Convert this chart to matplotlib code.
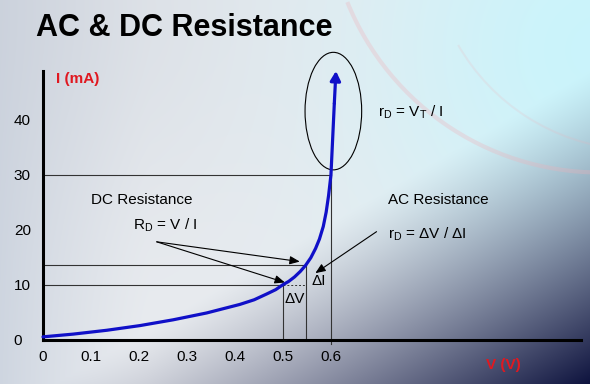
import numpy as np
import matplotlib
matplotlib.use('Agg')
import matplotlib.pyplot as plt
import matplotlib.patches as patches

plt.rcParams['font.family'] = ['Liberation Sans', 'DejaVu Sans']
plt.rcParams['mathtext.default'] = 'regular'

# diode curve (V in volts, I in mA)
volts = [0.0, 0.063, 0.133, 0.202, 0.271, 0.341, 0.41, 0.44, 0.466, 0.485,
         0.5, 0.512, 0.524, 0.536, 0.547, 0.558, 0.568, 0.576, 0.584, 0.59,
         0.595, 0.6, 0.6035, 0.607]
amps = [0.5, 1.0, 1.7, 2.55, 3.6, 4.85, 6.4, 7.25, 8.3, 9.1,
        10.0, 10.6, 11.4, 12.4, 13.5, 14.9, 16.6, 18.3, 20.6, 23.2,
        26.2, 30.0, 36.5, 43.0]
arrow_tip = (0.6104, 48.9)

x_ticks = [0, 0.1, 0.2, 0.3, 0.4, 0.5, 0.6]
x_labels = ['0', '0.1', '0.2', '0.3', '0.4', '0.5', '0.6']
y_ticks = [0, 10, 20, 30, 40]
y_labels = ['0', '10', '20', '30', '40']

# operating points (V, I) for the helper lines
q_dc = (0.5, 10.0)
q_ac = (0.547, 13.5)
q_top = (0.6, 30.0)

W, H = 590, 384
fig = plt.figure(figsize=(W / 100, H / 100), dpi=100)

# ---- slide background ----
bg = fig.add_axes([0, 0, 1, 1], zorder=-5)
bg.set_axis_off()
yy, xx = np.mgrid[0:H, 0:W]
u, v = xx / W, yy / H
base = np.array([0.915, 0.925, 0.94])
img = np.ones((H, W, 3)) * base
# grey-blue left edge
wl = np.clip(1 - xx / 150., 0, 1) ** 1.3 * 0.6
img = img * (1 - wl[..., None]) + np.array([0.74, 0.78, 0.84]) * wl[..., None]
# greyer top left
wt = np.exp(-((xx - 60) ** 2 + (yy - 10) ** 2) / (2 * 150. ** 2)) * 0.4
img = img * (1 - wt[..., None]) + np.array([0.78, 0.80, 0.84]) * wt[..., None]
# cyan glow top right
wc = np.exp(-((xx - 600) ** 2 + (yy - 50) ** 2) / (2 * 170. ** 2)) * 0.9
img = img * (1 - wc[..., None]) + np.array([0.78, 0.96, 0.99]) * wc[..., None]
# dark navy bottom right
d = np.clip((0.9 * u + 1.0 * v - 1.08) / 0.82, 0, 1) ** 1.2
img = img * (1 - d[..., None]) + np.array([0.05, 0.07, 0.24]) * d[..., None]
bg.imshow(img, extent=[0, W, H, 0], aspect='auto')
bg.set_xlim(0, W)
bg.set_ylim(H, 0)
# faint pink arcs
bg.add_patch(patches.Arc((600, -100), 545, 545, theta1=88, theta2=158,
                         color='#f0b0b8', lw=3, alpha=0.3))
bg.add_patch(patches.Arc((640, -60), 420, 420, theta1=95, theta2=150,
                         color='#f0b0b8', lw=1.5, alpha=0.18))

# ---- main chart ----
ax = fig.add_axes([43 / W, (H - 339.6) / H, 538 / W, 268.6 / H])
ax.set_facecolor('none')
ax.set_xlim(0, 1.121)
ax.set_ylim(0, 48.9)
for s in ['top', 'right']:
    ax.spines[s].set_visible(False)
for s in ['left', 'bottom']:
    ax.spines[s].set_linewidth(2.2)
    ax.spines[s].set_color('black')

ax.set_xticks(x_ticks)
ax.set_xticklabels(x_labels)
ax.set_yticks(y_ticks)
ax.set_yticklabels(y_labels)
ax.tick_params(axis='both', length=0, labelsize=11)
ax.tick_params(axis='x', pad=7.5)
ax.tick_params(axis='y', pad=21)
for lab in ax.get_yticklabels():
    lab.set_horizontalalignment('left')

gl = dict(color='#333333', lw=0.8, zorder=2)
# horizontal helper lines
ax.plot([0, q_top[0]], [q_top[1], q_top[1]], **gl)
ax.plot([0, q_ac[0]], [q_ac[1], q_ac[1]], **gl)
ax.plot([0, q_dc[0]], [q_dc[1], q_dc[1]], **gl)
ax.plot([q_dc[0], q_ac[0]], [q_dc[1], q_dc[1]], color='#333333', lw=0.7,
        ls=(0, (2, 2)), zorder=2)
# vertical helper lines
ax.plot([q_dc[0], q_dc[0]], [0, q_dc[1]], **gl)
ax.plot([q_ac[0], q_ac[0]], [0, q_ac[1]], **gl)
ax.plot([q_top[0], q_top[0]], [-0.8, q_top[1]], clip_on=False, **gl)

# diode curve
blue = '#1010c8'
ax.plot(volts, amps, color=blue, lw=2.3, solid_capstyle='round',
        solid_joinstyle='round', zorder=4, clip_on=False)
ax.annotate('', xy=arrow_tip, xytext=(volts[-1], amps[-1]),
            arrowprops=dict(arrowstyle='-|>,head_length=0.55,head_width=0.3',
                            color=blue, lw=2.3, mutation_scale=10,
                            shrinkA=0, shrinkB=0),
            annotation_clip=False, zorder=4)

# ellipse around the steep part
ell = patches.Ellipse((0.605, 41.6), 0.118, 21.4, fill=False, ec='black',
                      lw=0.8, clip_on=False, zorder=3)
ax.add_patch(ell)

# annotations
fs = 11
ax.text(0.6985, 40.6, 'r$_D$ = V$_T$ / I', fontsize=fs, va='baseline')
ax.text(0.719, 24.7, 'AC Resistance', fontsize=fs, va='baseline')
ax.text(0.719, 18.3, 'r$_D$ = \u0394V / \u0394I', fontsize=fs, va='baseline')
ax.text(0.101, 24.6, 'DC Resistance', fontsize=fs, va='baseline')
ax.text(0.187, 19.96, 'R$_D$ = V / I', fontsize=fs, va='baseline')
ax.text(0.56, 9.95, '\u0394I', fontsize=fs, va='baseline')
ax.text(0.504, 6.7, '\u0394V', fontsize=fs, va='baseline')

ap = dict(arrowstyle='-|>,head_length=0.6,head_width=0.25', color='black',
          lw=0.8, mutation_scale=10, shrinkA=0, shrinkB=0)
ax.annotate('', xy=(0.535, 14.2), xytext=(0.237, 17.8), arrowprops=ap)
ax.annotate('', xy=(0.504, 10.4), xytext=(0.237, 17.8), arrowprops=ap)
ax.annotate('', xy=(0.5675, 12.1), xytext=(0.695, 19.65), arrowprops=ap)

# axis labels in red
red = '#e01820'
fig.text(55.7 / W, 1 - 82.7 / H, 'I (mA)', fontsize=11, fontweight='bold',
         color=red, va='baseline')
fig.text(503 / W, 1 - 365 / H, 'V (V)', fontsize=11, fontweight='bold',
         color=red, va='center', ha='center')

# slide title
fig.text(35.8 / W, 1 - 36 / H, 'AC & DC Resistance', fontsize=22,
         fontweight='bold', va='baseline')

fig.savefig('out.png', dpi=100)
